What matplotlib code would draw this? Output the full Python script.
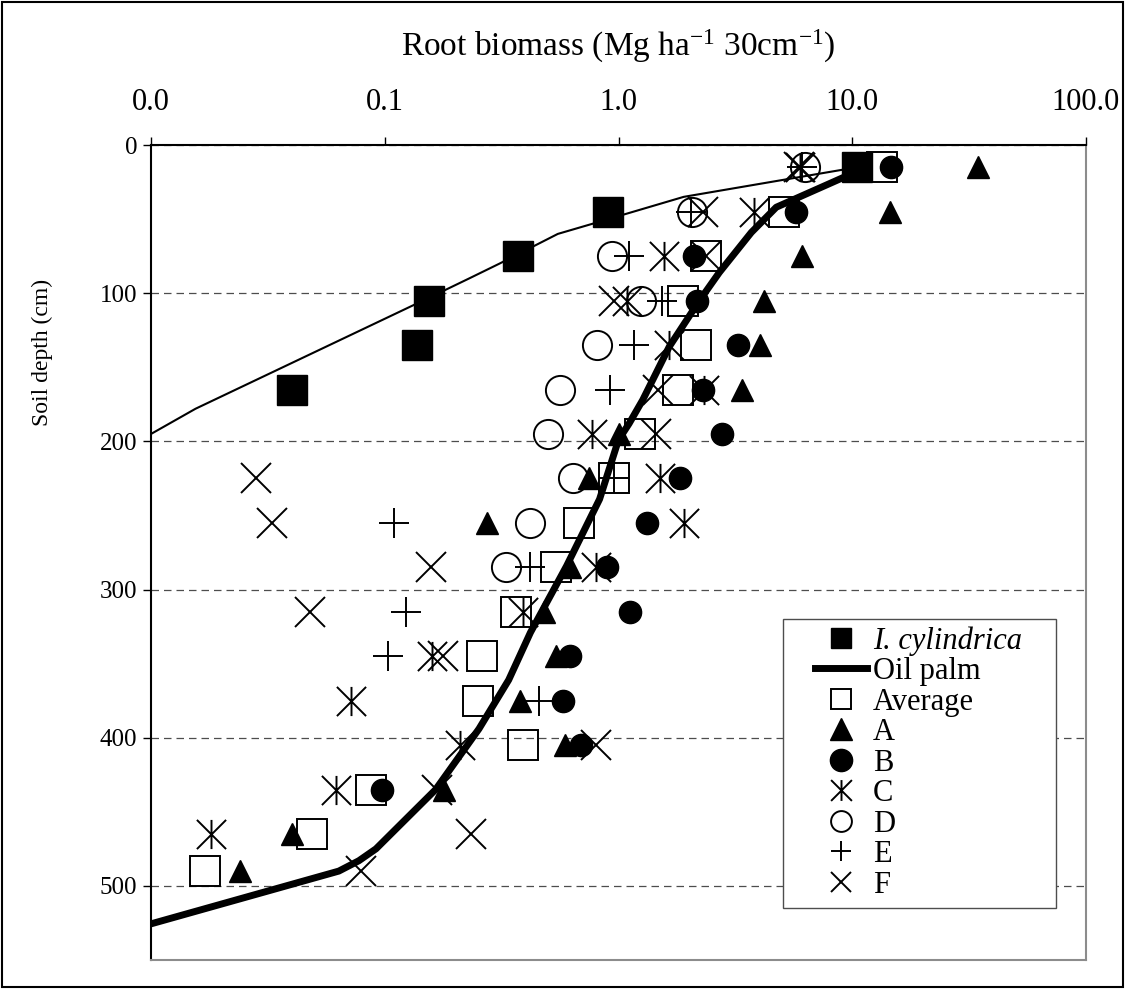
import numpy as np
import matplotlib
matplotlib.use("Agg")
import matplotlib.pyplot as plt
from matplotlib.path import Path
from matplotlib.patches import Rectangle

plt.rcParams['font.family'] = ['Liberation Serif', 'DejaVu Serif']
plt.rcParams['mathtext.fontset'] = 'custom'
plt.rcParams['mathtext.rm'] = 'Liberation Serif'
plt.rcParams['mathtext.it'] = 'Liberation Serif:italic'

nan = np.nan

# depth of each 30 cm layer (cm)
depth = [15, 45, 75, 105, 135, 165, 195, 225, 255, 285, 315, 345, 375, 405, 435, 465, 490]

# root biomass (Mg ha-1 30cm-1)
avg = [13.4, 5.12, 2.37, 1.88, 2.15, 1.79, 1.23, 0.96, 0.68, 0.54, 0.366, 0.26, 0.25, 0.39, 0.087, 0.049, 0.017]
site_a = [34.5, 14.5, 6.1, 4.2, 4.05, 3.39, 1.0, 0.75, 0.275, 0.62, 0.48, 0.54, 0.38, 0.59, 0.18, 0.040, 0.024]
site_b = [14.7, 5.77, 2.11, 2.17, 3.26, 2.29, 2.78, 1.84, 1.33, 0.89, 1.12, 0.62, 0.58, 0.69, 0.097, nan, nan]
site_c = [6.0, 3.81, 1.57, 1.09, 1.65, 2.33, 0.77, 1.5, 1.91, 0.80, 0.39, 0.16, 0.072, 0.21, 0.062, 0.018, nan]
site_d = [6.3, 2.07, 0.94, 1.25, 0.81, 0.56, 0.50, 0.64, 0.42, 0.33, nan, nan, nan, nan, nan, nan, nan]
site_e = [6.1, 2.05, 1.11, 1.53, 1.17, 0.92, nan, 0.96, 0.11, 0.42, 0.123, 0.103, 0.455, nan, nan, nan, nan]
site_f = [5.9, 2.29, 2.37, 0.96, nan, 1.47, 1.45, 0.028, 0.033, 0.157, 0.048, 0.177, nan, 0.80, 0.167, 0.235, 0.079]

# Imperata cylindrica
ic_depth = [15, 45, 75, 105, 135, 165]
ic_mass = [10.5, 0.90, 0.37, 0.154, 0.137, 0.040]
ic_line_depth = [15, 35, 53, 60, 80, 90, 100, 178, 197]
ic_line_mass = [10.5, 1.9, 0.78, 0.55, 0.31, 0.23, 0.17, 0.0155, 0.0095]

# oil palm
op_depth = [15, 42, 59, 86, 105, 136, 172, 188, 199, 239, 284, 329, 361, 394, 435, 475, 483, 490, 526]
op_mass = [11.5, 4.73, 3.70, 2.70, 2.22, 1.65, 1.27, 1.11, 1.0, 0.83, 0.60, 0.42, 0.339, 0.253, 0.165,
           0.0917, 0.0775, 0.0636, 0.0098]

xticks = [0.01, 0.1, 1, 10, 100]
xticklabels = ['0.0', '0.1', '1.0', '10.0', '100.0']

asterisk = Path([(0, -1), (0, 1), (-1, -1), (1, 1), (-1, 1), (1, -1)],
                [Path.MOVETO, Path.LINETO, Path.MOVETO, Path.LINETO, Path.MOVETO, Path.LINETO])

fig = plt.figure(figsize=(11.25, 9.89), dpi=100)
ax = fig.add_axes([151 / 1125, 1 - 960 / 989, 935 / 1125, 815 / 989])

mew = 1.4
ax.plot(ic_line_mass, ic_line_depth, color='black', lw=1.5, zorder=2)
ax.plot(ic_mass, ic_depth, ls='none', marker='s', ms=21, mfc='black', mec='black', zorder=3,
        label='I. cylindrica')
ax.plot(op_mass, op_depth, color='black', lw=5, zorder=5, label='Oil palm')
ax.plot(avg, depth, ls='none', marker='s', ms=21, mfc='none', mec='black', mew=mew, zorder=4,
        label='Average')
ax.plot(site_a, depth, ls='none', marker='^', ms=16, mfc='black', mec='black', zorder=4, label='A')
ax.plot(site_b, depth, ls='none', marker='o', ms=16, mfc='black', mec='black', zorder=4, label='B')
ax.plot(site_c, depth, ls='none', marker=asterisk, ms=21, color='black', mew=mew, zorder=4, label='C')
ax.plot(site_d, depth, ls='none', marker='o', ms=21, mfc='none', mec='black', mew=mew, zorder=4,
        label='D')
ax.plot(site_e, depth, ls='none', marker='+', ms=21, color='black', mew=mew, zorder=4, label='E')
ax.plot(site_f, depth, ls='none', marker='x', ms=21, color='black', mew=mew, zorder=4, label='F')

ax.set_xscale('log')
ax.set_xlim(0.01, 100)
ax.set_ylim(550, 0)
ax.set_xticks(xticks)
ax.set_xticklabels(xticklabels)
ax.minorticks_off()
ax.set_yticks([0, 100, 200, 300, 400, 500])
ax.xaxis.tick_top()
ax.tick_params(axis='x', direction='out', length=6, width=1, pad=14, labelsize=22)
ax.tick_params(axis='y', direction='out', length=6, width=1, pad=4, labelsize=18)

ax.yaxis.grid(True, color='0.3', ls=(0, (6, 4)), lw=0.9)
ax.set_axisbelow(True)

ax.spines['top'].set_linewidth(1.5)
ax.spines['left'].set_linewidth(1.5)
for s in ['bottom', 'right']:
    ax.spines[s].set_color('0.55')
    ax.spines[s].set_linewidth(1.5)

ax.set_xlabel('Root biomass (Mg ha$^{-1}$ 30cm$^{-1}$)', fontsize=24)
ax.xaxis.set_label_position('top')
ax.xaxis.set_label_coords(0.5, 1.109)
ax.set_ylabel('Soil depth (cm)', fontsize=17)
ax.yaxis.set_label_coords(-0.105, 0.746)

# legend box drawn separately so it matches the original frame
ax.add_patch(Rectangle(((783 - 151) / 935, (960 - 908) / 815), (1056 - 783) / 935, (908 - 619) / 815,
                       transform=ax.transAxes, facecolor='white', edgecolor='0.3', lw=1, zorder=6))
leg = ax.legend(loc='upper left', bbox_to_anchor=((815 - 151) / 935, (960 - 626) / 815),
                fontsize=22, handlelength=1.7, handletextpad=0.2,
                labelspacing=0.05, borderpad=0, borderaxespad=0, frameon=False)
leg.set_zorder(7)
leg.get_texts()[0].set_fontstyle('italic')
for h in leg.legend_handles:
    if h.get_markersize() > 18:
        h.set_markersize(15)

fig.patches.append(Rectangle((0.002, 0.002), 0.996, 0.996, transform=fig.transFigure,
                             fill=False, edgecolor='black', lw=1.5))

fig.savefig('out.png', dpi=100)
